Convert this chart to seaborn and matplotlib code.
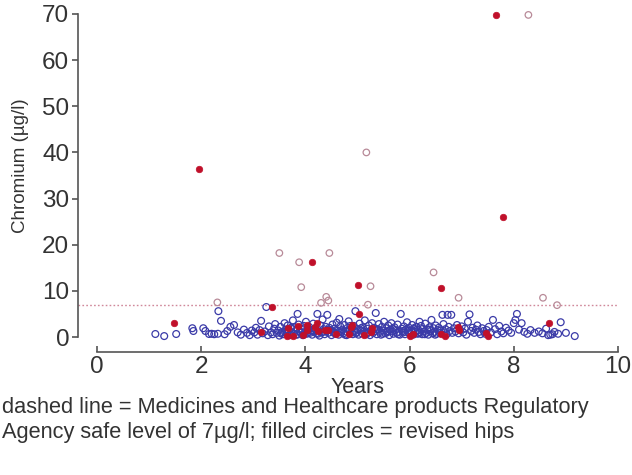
import numpy as np
import pandas as pd
import matplotlib
matplotlib.use("Agg")
import matplotlib.pyplot as plt
import seaborn as sns

# unrevised hips below the safe level (open blue circles)
blue_years = [
    1.12, 1.29, 1.52, 1.83, 1.85, 2.04, 2.08, 2.15, 2.20, 2.25,
    2.32, 2.33, 2.38, 2.50, 2.56, 2.63, 2.45, 2.70, 2.76, 2.82,
    2.88, 2.93, 2.97, 3.02, 3.05, 3.08, 3.12, 3.15, 3.18, 3.22,
    3.25, 3.28, 3.30, 3.34, 3.37, 3.40, 3.42, 3.45, 3.48, 3.50,
    3.52, 3.55, 3.57, 3.60, 3.62, 3.64, 3.66, 3.68, 3.70, 3.72,
    3.74, 3.76, 3.78, 3.80, 3.82, 3.84, 3.85, 3.87, 3.89, 3.91,
    3.93, 3.95, 3.97, 3.99, 4.01, 4.03, 4.05, 4.07, 4.09, 4.11,
    4.13, 4.15, 4.17, 4.19, 4.21, 4.23, 4.25, 4.27, 4.29, 4.31,
    4.33, 4.35, 4.37, 4.39, 4.41, 4.42, 4.44, 4.46, 4.48, 4.50,
    4.52, 4.54, 4.56, 4.58, 4.60, 4.62, 4.64, 4.65, 4.67, 4.69,
    4.71, 4.73, 4.75, 4.77, 4.79, 4.81, 4.83, 4.85, 4.87, 4.89,
    4.91, 4.93, 4.95, 4.96, 4.98, 5.00, 5.02, 5.04, 5.06, 5.08,
    5.10, 5.12, 5.14, 5.16, 5.18, 5.20, 5.22, 5.24, 5.26, 5.28,
    5.30, 5.32, 5.34, 5.35, 5.37, 5.39, 5.41, 5.43, 5.45, 5.47,
    5.49, 5.51, 5.53, 5.55, 5.57, 5.59, 5.61, 5.63, 5.65, 5.67,
    5.69, 5.71, 5.73, 5.75, 5.77, 5.79, 5.81, 5.83, 5.85, 5.87,
    5.89, 5.91, 5.93, 5.95, 5.97, 5.99, 6.01, 6.03, 6.05, 6.07,
    6.09, 6.11, 6.13, 6.15, 6.17, 6.19, 6.20, 6.22, 6.24, 6.26,
    6.28, 6.30, 6.32, 6.34, 6.36, 6.38, 6.40, 6.42, 6.44, 6.46,
    6.48, 6.50, 6.52, 6.54, 6.56, 6.58, 6.60, 6.63, 6.65, 6.67,
    6.69, 6.71, 6.73, 6.75, 6.77, 6.80, 6.82, 6.85, 6.88, 6.91,
    6.94, 6.97, 7.00, 7.03, 7.06, 7.09, 7.12, 7.15, 7.18, 7.21,
    7.24, 7.27, 7.30, 7.33, 7.36, 7.39, 7.42, 7.45, 7.48, 7.52,
    7.56, 7.60, 7.64, 7.68, 7.72, 7.76, 7.80, 7.85, 7.90, 7.95,
    8.00, 8.03, 8.06, 8.10, 8.15, 8.20, 8.26, 8.32, 8.40, 8.48,
    8.55, 8.62, 8.70, 8.78, 8.85, 8.90, 9.00, 9.17, 8.66, 8.74,
    3.53, 3.63, 3.73, 3.83, 3.94, 4.04, 4.14, 4.24, 4.34, 4.45,
    4.55, 4.66, 4.76, 4.86, 4.97, 5.07, 5.17, 5.27, 5.38, 5.48,
    5.58, 5.68, 5.78, 5.88, 5.98, 6.08, 6.18, 6.29, 6.39, 6.49,
]
blue_chromium = [
    0.65, 0.2, 0.65, 1.9, 1.3, 1.9, 1.3, 0.65, 0.7, 0.6,
    0.7, 5.6, 3.5, 1.3, 2.2, 2.6, 0.6, 1.0, 0.5, 1.6,
    0.9, 0.4, 1.4, 1.0, 2.0, 0.5, 1.5, 3.5, 0.8, 1.2,
    6.5, 0.4, 2.3, 1.0, 0.6, 1.8, 2.8, 0.9, 1.4, 0.3,
    2.2, 1.1, 0.6, 3.0, 1.6, 0.8, 2.5, 1.3, 0.4, 1.9,
    1.0, 3.6, 0.7, 2.1, 1.4, 0.5, 5.0, 2.7, 1.2, 0.9,
    1.8, 0.4, 2.4, 1.1, 3.3, 0.7, 1.6, 2.2, 0.9, 1.4,
    0.5, 2.9, 1.2, 1.9, 0.8, 5.0, 1.5, 0.3, 2.5, 1.0,
    3.8, 1.7, 0.6, 2.2, 1.3, 4.8, 0.9, 2.0, 1.5, 0.4,
    2.7, 1.1, 1.8, 0.7, 3.1, 1.4, 0.5, 3.9, 2.3, 1.0,
    1.6, 0.8, 2.6, 1.2, 0.4, 2.0, 3.4, 1.5, 0.9, 1.9,
    0.6, 2.4, 1.3, 5.6, 1.0, 1.7, 0.5, 2.9, 1.4, 0.8,
    2.1, 1.2, 3.6, 0.7, 1.8, 1.0, 2.5, 0.4, 1.5, 3.0,
    0.9, 2.0, 1.3, 5.2, 0.6, 1.7, 2.8, 1.1, 0.5, 2.2,
    1.4, 3.3, 0.8, 1.9, 1.0, 2.5, 0.4, 1.6, 3.0, 1.2,
    0.7, 2.1, 1.5, 0.9, 2.7, 1.1, 0.5, 5.0, 1.8, 1.3,
    2.3, 0.6, 1.6, 3.2, 1.0, 2.0, 0.8, 1.4, 2.6, 0.5,
    1.7, 1.1, 2.2, 0.7, 1.5, 3.3, 1.0, 2.4, 0.6, 1.8,
    1.2, 2.9, 0.9, 1.6, 0.5, 2.1, 1.3, 3.7, 0.8, 1.9,
    1.1, 2.5, 0.7, 1.5, 2.0, 0.9, 1.4, 4.8, 2.8, 1.0,
    1.7, 0.6, 4.8, 2.2, 1.3, 4.8, 0.9, 1.9, 1.2, 2.6,
    0.8, 1.5, 2.3, 1.0, 1.8, 0.5, 3.3, 4.9, 1.3, 2.0,
    0.9, 1.6, 2.5, 1.1, 0.6, 1.9, 1.3, 0.7, 1.5, 2.2,
    1.0, 3.7, 1.7, 0.6, 2.4, 1.2, 0.8, 2.0, 1.4, 0.9,
    3.0, 3.7, 5.0, 1.6, 3.0, 1.1, 0.7, 1.5, 0.9, 1.2,
    0.8, 1.8, 0.5, 1.1, 0.7, 3.2, 0.9, 0.2, 0.4, 0.6,
    0.8, 1.2, 2.0, 0.6, 1.5, 0.9, 1.3, 0.7, 1.1, 1.6,
    0.9, 1.3, 0.5, 2.4, 0.8, 1.9, 0.6, 1.2, 1.6, 0.7,
    1.3, 1.8, 0.6, 1.0, 1.4, 1.9, 0.8, 0.6, 1.6, 0.5,
]

# unrevised hips above the safe level (open mauve circles)
high_years = [8.28, 5.17, 3.50, 4.46, 3.88, 3.92, 5.25, 6.46, 6.94, 8.56,
              8.83, 2.31, 4.30, 4.40, 4.44, 5.20]
high_chromium = [69.8, 40.0, 18.2, 18.2, 16.2, 10.8, 11.0, 14.0, 8.5, 8.5,
                 6.9, 7.5, 7.4, 8.7, 7.9, 7.0]

# revised hips (filled red circles)
red_years = [
    7.65, 1.96, 7.80, 4.13, 5.00, 6.60, 3.35, 1.48, 8.68, 5.02,
    3.15, 3.65, 3.77, 3.85, 3.96, 4.04, 4.19, 4.23, 4.25, 4.38,
    4.44, 4.58, 4.83, 4.88, 4.90, 5.12, 5.25, 5.27, 6.00, 6.06,
    6.60, 6.67, 6.92, 6.94, 7.46, 7.50, 3.67, 4.04,
]
red_chromium = [
    69.8, 36.5, 26.0, 16.2, 11.2, 10.6, 6.6, 3.0, 3.0, 5.0,
    1.1, 0.2, 0.2, 2.4, 0.4, 1.5, 2.2, 3.0, 1.2, 1.5,
    1.5, 0.7, 0.7, 2.2, 2.6, 0.4, 1.1, 2.0, 0.2, 0.6,
    0.6, 0.2, 2.2, 1.5, 0.9, 0.2, 1.9, 2.6,
]

safe_level = 7
x_ticks = [0, 2, 4, 6, 8, 10]
y_ticks = [0, 10, 20, 30, 40, 50, 60, 70]

sns.set_style("ticks")
plt.rcParams["font.family"] = ["Liberation Sans", "DejaVu Sans"]

fig = plt.figure(figsize=(6.32, 4.75), dpi=100)
ax = fig.add_axes([97 / 632, 1 - 337 / 475, 521 / 632, 323 / 475])

sns.scatterplot(x=blue_years, y=blue_chromium, ax=ax, s=24, marker="o",
                facecolor="none", edgecolor="#3b3ba8", linewidth=0.9,
                clip_on=False, zorder=3)
sns.scatterplot(x=high_years, y=high_chromium, ax=ax, s=22, marker="o",
                facecolor="none", edgecolor="#b88a98", linewidth=0.9,
                clip_on=False, zorder=3)
sns.scatterplot(x=red_years, y=red_chromium, ax=ax, s=22, marker="o",
                color="#c0102a", edgecolor="#c0102a", linewidth=0.5,
                clip_on=False, zorder=4)

# MHRA safe level
ax.axhline(safe_level, xmin=-0.037, xmax=1.0, color="#d0889a",
           linestyle=(0, (1.2, 1.6)), linewidth=1.0, clip_on=False, zorder=2)

ax.set_xlim(0, 10)
ax.set_ylim(0, 70)
ax.set_xticks(x_ticks)
ax.set_yticks(y_ticks)

sns.despine(ax=ax, offset={"left": 14, "bottom": 11}, trim=True)
for side in ["left", "bottom"]:
    ax.spines[side].set_color("#555555")
    ax.spines[side].set_linewidth(1.2)

ax.tick_params(axis="x", direction="in", length=4, width=1.2, color="#555555",
               labelsize=17.5, labelcolor="#333333", pad=3)
ax.tick_params(axis="y", direction="out", length=4, width=1.2, color="#555555",
               labelsize=17.5, labelcolor="#333333", pad=2)

ax.set_xlabel("Years", fontsize=15.5, color="#333333", labelpad=-1)
ax.set_ylabel("Chromium (\u00b5g/l)", fontsize=13.5, color="#333333")
ax.yaxis.set_label_coords(-0.13, 0.53)

fig.text(0.003, 1 - 397 / 475,
         "dashed line = Medicines and Healthcare products Regulatory\n"
         "Agency safe level of 7\u00b5g/l; filled circles = revised hips",
         fontsize=15.7, color="#333333", ha="left", va="top", linespacing=1.22)

fig.savefig("out.png", dpi=100)
